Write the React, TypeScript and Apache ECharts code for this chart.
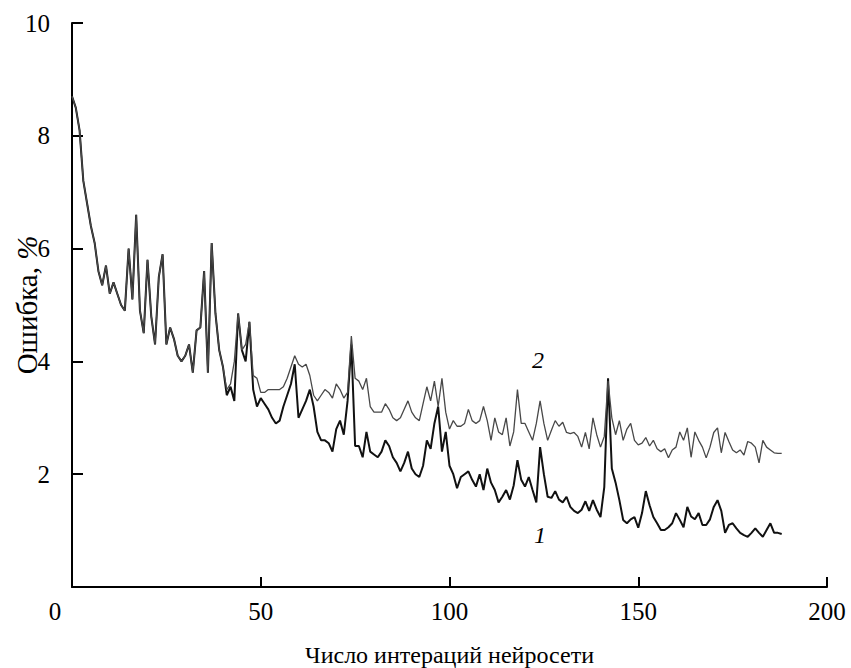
import React, { useEffect, useRef } from "react";
import * as echarts from "echarts";

// Iterations 0..40: both networks follow the same error curve
const sharedStart = [
  8.7, 8.5, 8.1, 7.2, 6.8, 6.4, 6.1, 5.6, 5.35, 5.7,
  5.2, 5.4, 5.2, 5.0, 4.9, 6.0, 5.1, 6.6, 4.9, 4.5,
  5.8, 4.8, 4.3, 5.5, 5.9, 4.3, 4.6, 4.4, 4.1, 4.0,
  4.1, 4.3, 3.8, 4.55, 4.6, 5.6, 3.8, 6.1, 4.85, 4.2,
  3.9,
];

// Iterations 41..188, curve 1
const net1Tail = [
  3.4, 3.55, 3.3, 4.85, 4.2, 4.0, 4.7, 3.5, 3.2, 3.35,
  3.25, 3.15, 3.0, 2.9, 2.95, 3.2, 3.4, 3.6, 3.95, 3.0,
  3.15, 3.3, 3.5, 3.2, 2.75, 2.6, 2.6, 2.55, 2.4, 2.8,
  2.95, 2.7, 3.3, 4.3, 2.5, 2.5, 2.3, 2.75, 2.4, 2.35,
  2.3, 2.4, 2.6, 2.5, 2.3, 2.2, 2.05, 2.2, 2.4, 2.1,
  2.0, 1.95, 2.15, 2.6, 2.45, 2.9, 3.2, 2.4, 2.75, 2.15,
  2.0, 1.75, 1.95, 2.0, 2.05, 1.9, 1.78, 2.0, 1.72, 2.1,
  1.85, 1.72, 1.5, 1.6, 1.72, 1.55, 1.8, 2.25, 1.9, 1.78,
  1.95, 1.72, 1.5, 2.48, 2.0, 1.6, 1.58, 1.7, 1.55, 1.5,
  1.6, 1.42, 1.35, 1.31, 1.37, 1.52, 1.35, 1.54, 1.37, 1.24,
  1.77, 3.7, 2.1, 1.85, 1.54, 1.19, 1.13, 1.2, 1.24, 1.05,
  1.31, 1.7, 1.45, 1.24, 1.13, 1.01, 1.01, 1.06, 1.13, 1.31,
  1.19, 1.06, 1.42, 1.25, 1.2, 1.31, 1.1, 1.1, 1.2, 1.42,
  1.54, 1.35, 0.96, 1.1, 1.13, 1.04, 0.96, 0.92, 0.89, 0.96,
  1.04, 0.96, 0.89, 1.01, 1.13, 0.96, 0.96, 0.94,
];

// Iterations 41..188, curve 2
const net2Tail = [
  3.5, 3.6, 4.0, 4.85, 4.2, 4.3, 4.7, 3.75, 3.7, 3.45,
  3.45, 3.5, 3.5, 3.5, 3.5, 3.55, 3.7, 3.9, 4.1, 3.95,
  3.9, 3.95, 3.75, 3.4, 3.3, 3.4, 3.5, 3.45, 3.35, 3.6,
  3.5, 3.35, 3.45, 4.45, 3.7, 3.65, 3.5, 3.7, 3.2, 3.1,
  3.1, 3.1, 3.25, 3.15, 3.0, 2.95, 3.0, 3.15, 3.3, 3.1,
  3.0, 2.95, 3.25, 3.55, 3.3, 3.65, 3.2, 3.7, 3.1, 2.8,
  2.95, 2.85, 2.85, 2.9, 3.15, 2.95, 2.9, 2.95, 3.2, 2.95,
  2.6, 3.0, 2.75, 2.7, 3.0, 2.5, 2.75, 3.5, 2.9, 2.9,
  2.75, 2.6, 2.9, 3.3, 2.9, 2.6, 2.78, 2.95, 2.85, 2.92,
  2.74, 2.72, 2.74, 2.67, 2.48, 2.74, 2.45, 3.0, 2.7, 2.48,
  2.67, 3.65, 3.0, 2.7, 2.95, 2.6, 2.8, 2.9, 2.6, 2.52,
  2.55, 2.65, 2.5, 2.6, 2.45, 2.4, 2.45, 2.29, 2.43, 2.48,
  2.75, 2.6, 2.82, 2.3, 2.75, 2.6, 2.48, 2.29, 2.48, 2.74,
  2.82, 2.38, 2.74, 2.58, 2.43, 2.38, 2.43, 2.34, 2.58, 2.55,
  2.48, 2.2, 2.6, 2.48, 2.43, 2.38, 2.37, 2.37,
];

const xTicks = [0, 50, 100, 150, 200];
const yTicks = [0, 2, 4, 6, 8, 10];
const curveNames = ["1", "2"];

const net1 = [...sharedStart, ...net1Tail];
const net2 = [...sharedStart, ...net2Tail];
const toPairs = (vals: number[]) => vals.map((v, i) => [i, v]);

const FONT = "Liberation Serif, Times New Roman, serif";

export default function App() {
  const ref = useRef<HTMLDivElement>(null);
  useEffect(() => {
    if (!ref.current) return;
    const chart = echarts.init(ref.current, undefined, { renderer: "svg" });
    const xStep = xTicks[1] - xTicks[0];
    const yStep = yTicks[1] - yTicks[0];
    chart.setOption({
      animation: false,
      backgroundColor: "#fff",
      grid: { left: 72, right: 24, top: 23, bottom: 81, containLabel: false, outerBoundsMode: "none" },
      xAxis: {
        type: "value",
        min: xTicks[0],
        max: xTicks[xTicks.length - 1],
        interval: xStep,
        name: "Число интераций нейросети",
        nameLocation: "middle",
        nameGap: 56,
        nameMoveOverlap: false,
        nameTextStyle: { fontFamily: FONT, fontSize: 24, color: "#000" },
        axisLine: { lineStyle: { color: "#000", width: 2 } },
        axisTick: { show: true, inside: true, length: 10, lineStyle: { color: "#000", width: 2 } },
        axisLabel: {
          fontFamily: FONT,
          fontSize: 25,
          color: "#000",
          margin: 12,
          formatter: (v: number) => (v === 0 ? "" : String(v)),
        },
        splitLine: { show: false },
      },
      yAxis: {
        type: "value",
        min: yTicks[0],
        max: yTicks[yTicks.length - 1],
        interval: yStep,
        name: "Ошибка, {i|%}",
        nameLocation: "middle",
        nameGap: 31,
        nameMoveOverlap: false,
        nameRotate: 90,
        nameTextStyle: {
          fontFamily: FONT,
          fontSize: 29,
          color: "#000",
          rich: { i: { fontFamily: FONT, fontSize: 29, fontStyle: "italic", color: "#000" } },
        },
        axisLine: { show: true, lineStyle: { color: "#000", width: 2 } },
        axisTick: { show: true, inside: true, length: 11, lineStyle: { color: "#000", width: 2 } },
        axisLabel: {
          fontFamily: FONT,
          fontSize: 25,
          color: "#000",
          margin: 22,
          formatter: (v: number) => (v === 0 ? "" : String(v)),
        },
        splitLine: { show: false },
      },
      graphic: [
        {
          type: "text",
          x: 55,
          y: 611,
          style: { text: "0", fontFamily: FONT, fontSize: 25, fill: "#000", textAlign: "center", textVerticalAlign: "middle" },
        },
        {
          type: "text",
          x: 538,
          y: 360,
          style: { text: curveNames[1], fontFamily: FONT, fontSize: 24, fontStyle: "italic", fill: "#000", textAlign: "center", textVerticalAlign: "middle" },
        },
        {
          type: "text",
          x: 540,
          y: 535,
          style: { text: curveNames[0], fontFamily: FONT, fontSize: 24, fontStyle: "italic", fill: "#000", textAlign: "center", textVerticalAlign: "middle" },
        },
      ],
      series: [
        {
          name: curveNames[0],
          type: "line",
          data: toPairs(net1),
          showSymbol: false,
          lineStyle: { color: "#111", width: 2 },
          z: 2,
        },
        {
          name: curveNames[1],
          type: "line",
          data: toPairs(net2),
          showSymbol: false,
          lineStyle: { color: "#484848", width: 1.3 },
          z: 3,
        },
      ],
    });
    return () => chart.dispose();
  }, []);
  return (
    <div
      ref={ref}
      style={{ position: "fixed", left: 0, top: 0, width: 851, height: 668 }}
    />
  );
}
